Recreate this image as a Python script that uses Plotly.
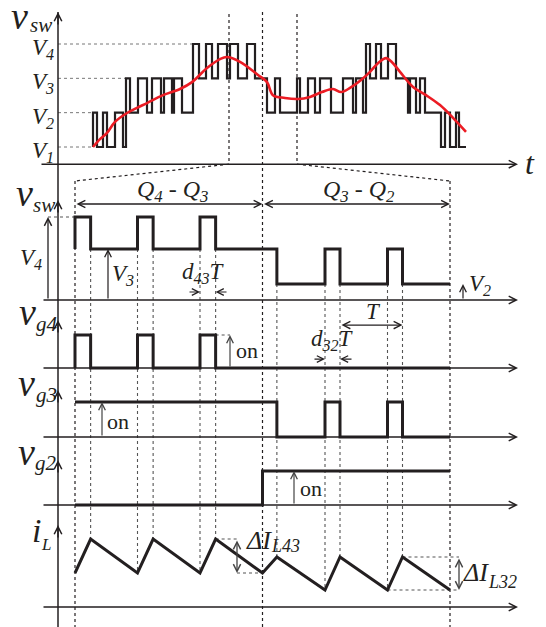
import plotly.graph_objects as go

W, H = 546, 627
INK = "#231f20"
GUIDE = "#555555"
RED = "#ec1c24"
FONT = "Liberation Serif, Times New Roman, Times, serif"

# ---------------- data ----------------
# top panel: multilevel switching voltage (levels V1..V4 = 1..4)
top_levels = [1, 2, 3, 4]
top_level_names = ["1", "2", "3", "4"]
top_start_level = 1
top_edges = [0, 0.4, 1.0, 1.4, 2.2, 3.0, 3.3, 3.7, 4.5, 5.4, 5.9, 6.8, 7.1, 7.9, 8.1, 8.9,
             10.0, 10.6, 11.3, 11.9, 12.5, 13.4, 13.7, 14.5, 15.4, 16.2, 17.4, 18.2, 18.7,
             20.4, 20.7, 21.5, 22.2, 22.7, 23.8, 25.0, 26.0, 26.3, 27.0, 27.3, 27.7, 28.3,
             28.8, 29.5, 30.3, 31.5, 31.7, 32.3, 32.7, 33.2, 34.8, 35.2, 35.7, 36.3, 36.6]
top_after = [2, 1, 2, 1, 2, 1, 3, 2, 3, 2, 3, 2, 3, 2, 3, 2,
             4, 3, 4, 3, 4, 3, 4, 3, 4, 3, 2, 3, 2,
             3, 2, 3, 2, 3, 2, 3, 2, 3, 2, 4, 3, 4,
             3, 4, 3, 2, 3, 2, 3, 2, 1, 2, 1, 2, 1]
top_end = 37.3
# red averaged (reference) curve
red_t = [0, 0.7, 1.4, 2.2, 3.4, 4.4, 5.4, 7.0, 8.7, 9.9, 11.4, 12.7, 13.4, 14.7, 16.5, 17.4,
         18.0, 19.2, 20.5, 21.7, 22.9, 24.0, 24.8, 25.7, 26.8, 27.7, 28.6, 29.3, 29.9, 30.7,
         32.0, 33.3, 34.7, 36.0, 37.3]
red_v = [1.0, 1.23, 1.41, 1.73, 1.99, 2.14, 2.28, 2.51, 2.69, 2.89, 3.30, 3.56, 3.62, 3.48, 3.10, 2.89,
         2.51, 2.43, 2.40, 2.46, 2.60, 2.69, 2.60, 2.72, 2.95, 3.19, 3.47, 3.59, 3.47, 3.19,
         2.75, 2.51, 2.22, 1.85, 1.44]
zoom_window = [13.6, 20.4]          # top-panel times that are zoomed below

# lower panels (time in switching periods T)
d43 = 0.25
d32 = 0.24
vsw_levels = {"V2": 0.8, "V3": 2.55, "V4": 4.15}
vsw_start = "V3"
vsw_edges = [0, d43, 1, 1 + d43, 2, 2 + d43, 3 + 0.23, 4, 4 + d32, 5, 5 + d32]
vsw_after = ["V4", "V3", "V4", "V3", "V4", "V3", "V2", "V3", "V2", "V3", "V2"]
t_end = 6
vg4_edges = [0, d43, 1, 1 + d43, 2, 2 + d43]
vg4_after = [1, 0, 1, 0, 1, 0]
vg3_edges = [3 + 0.23, 4, 4 + d32, 5, 5 + d32]
vg3_after = [0, 1, 0, 1, 0]
vg2_edges = [3]
vg2_after = [1]
iL_t = [0, d43, 1, 1 + d43, 2, 2 + d43, 3, 3 + 0.23, 4, 4 + d32, 5, 5 + d32, 6]
iL_v = [3.4, 6.8, 3.4, 6.8, 3.4, 6.8, 3.4, 5.0, 1.7, 5.0, 1.7, 5.0, 1.7]

# ---------------- layout helpers ----------------
XR_TOP = [-9.3, 45.3]
XR_LOW = [-1.2, 7.536]
PANELS = {"y": (181.33, 34.33), "y2": (300, 20), "y3": (368, 33),
          "y4": (437, 35), "y5": (505, 34), "y6": (607, 10)}


def yrange(b, s):
    r0 = -(H - b) / s
    return [r0, r0 + H / s]


def yp(ax, v):
    r0, r1 = yrange(*PANELS[ax])
    return (v - r0) / (r1 - r0)


def xp_top(t):
    return (t - XR_TOP[0]) / (XR_TOP[1] - XR_TOP[0])


def xp_low(t):
    return (t - XR_LOW[0]) / (XR_LOW[1] - XR_LOW[0])


def px(x, y):
    return x / W, 1 - y / H


def step_xy(t0, v0, edges, after, t1):
    xs, ys = [t0], [v0]
    for e, v in zip(edges, after):
        xs += [e, e]
        ys += [ys[-1], v]
    xs.append(t1)
    ys.append(ys[-1])
    return xs, ys


def value_at(xs, ys, t):
    for i in range(len(xs) - 1):
        if xs[i] <= t <= xs[i + 1] and xs[i + 1] > xs[i]:
            f = (t - xs[i]) / (xs[i + 1] - xs[i])
            return ys[i] + f * (ys[i + 1] - ys[i])
    return ys[-1]


fig = go.Figure()
shapes = []
ann = []


def guide(x0, y0, x1, y1, color=GUIDE, width=1.1):
    shapes.append(dict(type="line", xref="paper", yref="paper", x0=x0, y0=y0, x1=x1, y1=y1,
                       line=dict(color=color, width=width, dash="dot"), layer="below"))


def arrow(xtip, ytip, xtail, ytail, xr, yr, both=False, width=1.2, size=1.1, color=INK):
    ann.append(dict(x=xtip, y=ytip, ax=xtail, ay=ytail, xref=xr, yref=yr, axref=xr, ayref=yr,
                    text="", showarrow=True, arrowhead=5, startarrowhead=5,
                    arrowside="end+start" if both else "end",
                    arrowsize=size, startarrowsize=size, arrowwidth=width, arrowcolor=color,
                    standoff=0, startstandoff=0))


def text(s, xpx, ypx, size, italic=True, anchor="center"):
    x, y = px(xpx, ypx)
    ann.append(dict(x=x, y=y, xref="paper", yref="paper", text=f"<i>{s}</i>" if italic else s,
                    showarrow=False, xanchor=anchor, yanchor="middle",
                    font=dict(family=FONT, size=size, color=INK)))


# ---------------- top panel ----------------
tx, ty = step_xy(0, top_start_level, top_edges, top_after, top_end)
fig.add_trace(go.Scatter(x=tx, y=ty, xaxis="x", yaxis="y", mode="lines",
                         line=dict(color=INK, width=2.2), hoverinfo="skip"))
fig.add_trace(go.Scatter(x=red_t, y=red_v, xaxis="x", yaxis="y", mode="lines",
                         line=dict(color=RED, width=2.6, shape="spline", smoothing=1.0),
                         hoverinfo="skip"))
axis_x_top = -3.5  # vertical axis position in top time units (x px 58)
for lv, name in zip(top_levels, top_level_names):
    first = next(x for x, y in zip(tx, ty) if y == lv)
    guide(xp_top(axis_x_top), yp("y", lv), xp_top(first), yp("y", lv), color="#777777", width=1)
    ypx = H * (1 - yp("y", lv))
    text(f"V<sub>{name}</sub>", 43, ypx + 5, 23)
# t axis
arrow(42.5, 0.5, -5.3, 0.5, "x", "y", width=1.5, size=1.0)
text("t", 530, 163, 32)
text("v", 19, 16, 38)
text("sw", 41, 25, 21)

# zoom window guides
for zt in zoom_window:
    guide(xp_top(zt), px(0, 14)[1], xp_top(zt), yp("y", 0.5), color=INK, width=1.2)
guide(xp_top(zoom_window[0]), yp("y", 0.5), xp_low(0), yp("y2", 5.95), color=INK, width=1.2)
guide(xp_top(zoom_window[1]), yp("y", 0.5), xp_low(t_end), yp("y2", 5.95), color=INK, width=1.2)
guide(xp_low(0), yp("y2", 5.95), xp_low(0), 0, color=INK, width=1.2)
guide(xp_low(t_end), yp("y2", 5.95), xp_low(t_end), 0, color=INK, width=1.2)
guide(xp_low(3), px(0, 12)[1], xp_low(3), 0, color=INK, width=1.2)

# ---------------- lower panels ----------------
sx, sy = step_xy(0, vsw_levels[vsw_start], vsw_edges, [vsw_levels[a] for a in vsw_after], t_end)
fig.add_trace(go.Scatter(x=sx, y=sy, xaxis="x2", yaxis="y2", mode="lines",
                         line=dict(color=INK, width=3), hoverinfo="skip"))
g4x, g4y = step_xy(0, 0, vg4_edges, vg4_after, t_end)
fig.add_trace(go.Scatter(x=g4x, y=g4y, xaxis="x2", yaxis="y3", mode="lines",
                         line=dict(color=INK, width=3), hoverinfo="skip"))
g3x, g3y = step_xy(0, 1, vg3_edges, vg3_after, t_end)
fig.add_trace(go.Scatter(x=g3x, y=g3y, xaxis="x2", yaxis="y4", mode="lines",
                         line=dict(color=INK, width=3), hoverinfo="skip"))
g2x, g2y = step_xy(0, 0, vg2_edges, vg2_after, t_end)
fig.add_trace(go.Scatter(x=g2x, y=g2y, xaxis="x2", yaxis="y5", mode="lines",
                         line=dict(color=INK, width=3), hoverinfo="skip"))
fig.add_trace(go.Scatter(x=iL_t, y=iL_v, xaxis="x2", yaxis="y6", mode="lines",
                         line=dict(color=INK, width=3), hoverinfo="skip"))

# edge guides from vsw lower level down to iL
for e in vsw_edges[1:]:
    before = value_at(sx, sy, e - 1e-6)
    after = value_at(sx, sy, e + 1e-6)
    top_v = min(before, after)
    guide(xp_low(e), yp("y2", top_v), xp_low(e), yp("y6", value_at(iL_t, iL_v, e)))

# axes
x_start, x_stop = (42 - 75) / 62.5, (518 - 75) / 62.5
for yax in ["y2", "y3", "y4", "y5", "y6"]:
    arrow(x_stop, 0, x_start, 0, "x2", yax, width=1.5, size=1.0)
shapes.append(dict(type="line", xref="paper", yref="paper", x0=58 / W, x1=58 / W,
                   y0=0, y1=1 - 12 / H, line=dict(color=INK, width=1.5)))
for ytip in [12, 200, 320, 390, 460, 525]:
    x, y = px(58, ytip)
    ann.append(dict(x=x, y=y, xref="paper", yref="paper", ax=0, ay=14, text="", showarrow=True,
                    arrowhead=5, arrowsize=1.0, arrowwidth=1.5, arrowcolor=INK, standoff=0))

# panel labels
text("v", 24, 193, 38); text("sw", 44, 205, 21)
text("v", 27, 312, 38); text("g4", 47, 324, 21)
text("v", 26, 383, 38); text("g3", 46, 395, 21)
text("v", 26, 452, 38); text("g2", 46, 463, 21)
text("i", 36, 530, 34); text("L", 46, 544, 17)

# vsw annotations
arrow(3, 4.8, 0, 4.8, "x2", "y2", both=True, width=1.3)
arrow(6, 4.8, 3, 4.8, "x2", "y2", both=True, width=1.3)
text("Q<sub>4</sub> - Q<sub>3</sub>", 172, 191, 24)
text("Q<sub>3</sub> - Q<sub>2</sub>", 359, 191, 24)
vx4 = (48 - 75) / 62.5
arrow(vx4, vsw_levels["V4"], vx4, 0, "x2", "y2", width=1.3)
guide(xp_low(vx4), yp("y2", vsw_levels["V4"]), xp_low(0), yp("y2", vsw_levels["V4"]), color=GUIDE)
text("V<sub>4</sub>", 31, 259, 23)
arrow(0.528, vsw_levels["V3"], 0.528, 0, "x2", "y2", width=1.2)
text("V<sub>3</sub>", 123, 275, 23)
arrow(6.208, vsw_levels["V2"], 6.208, 0, "x2", "y2", width=1.2)
text("V<sub>2</sub>", 480, 285, 23)
arrow(2, 0.4, 1.808, 0.4, "x2", "y2", width=1.2)
arrow(2 + d43, 0.4, 2.448, 0.4, "x2", "y2", width=1.2)
text("d<sub>43</sub>T", 203, 273, 23)

# vg4 annotations
arrow(2.48, 1, 2.48, 0, "x2", "y3", width=1.2, color="#444444")
guide(xp_low(2 + d43), yp("y3", 1), xp_low(2.48), yp("y3", 1))
text("on", 247, 350, 22, italic=False)
arrow(5 + d32, 1.3, 4 + d32, 1.3, "x2", "y3", both=True, width=1.3)
text("T", 373, 311, 23)
arrow(4, 0.27, 3.808, 0.27, "x2", "y3", width=1.2)
arrow(4 + d32, 0.27, 4.448, 0.27, "x2", "y3", width=1.2)
text("d<sub>32</sub>T", 332, 340, 23)

# vg3 / vg2 annotations
arrow(0.432, 1, 0.432, 0, "x2", "y4", width=1.2, color="#444444")
text("on", 118, 421, 22, italic=False)
arrow(3.504, 1, 3.504, 0, "x2", "y5", width=1.2, color="#444444")
text("on", 311, 488, 22, italic=False)

# iL ripple annotations
xa = 2.592
guide(xp_low(2 + d43), yp("y6", 6.8), xp_low(xa), yp("y6", 6.8))
guide(xp_low(xa), yp("y6", 3.4), xp_low(3), yp("y6", 3.4))
arrow(xa, 3.4, xa, 6.8, "x2", "y6", both=True, width=1.3, color="#444444")
text("ΔI", 259, 540, 26); text("L43", 285, 546, 18)
xb = 6.144
guide(xp_low(5 + d32), yp("y6", 5.0), xp_low(xb), yp("y6", 5.0))
guide(xp_low(5), yp("y6", 1.7), xp_low(xb), yp("y6", 1.7))
arrow(xb, 1.7, xb, 5.0, "x2", "y6", both=True, width=1.3, color="#444444")
text("ΔI", 476, 572, 26); text("L32", 502, 582, 18)

# ---------------- layout ----------------
layout = dict(
    width=W, height=H, margin=dict(l=0, r=0, t=0, b=0),
    paper_bgcolor="white", plot_bgcolor="white", showlegend=False,
    font=dict(family=FONT, color=INK),
    xaxis=dict(range=XR_TOP, domain=[0, 1], visible=False, fixedrange=True),
    xaxis2=dict(range=XR_LOW, domain=[0, 1], overlaying="x", visible=False, fixedrange=True),
    shapes=shapes, annotations=ann,
)
for name, (b, s) in PANELS.items():
    key = "yaxis" if name == "y" else "yaxis" + name[1:]
    d = dict(range=yrange(b, s), domain=[0, 1], visible=False, fixedrange=True)
    if name != "y":
        d["overlaying"] = "y"
    layout[key] = d
fig.update_layout(**layout)
fig.write_html("out.html")
